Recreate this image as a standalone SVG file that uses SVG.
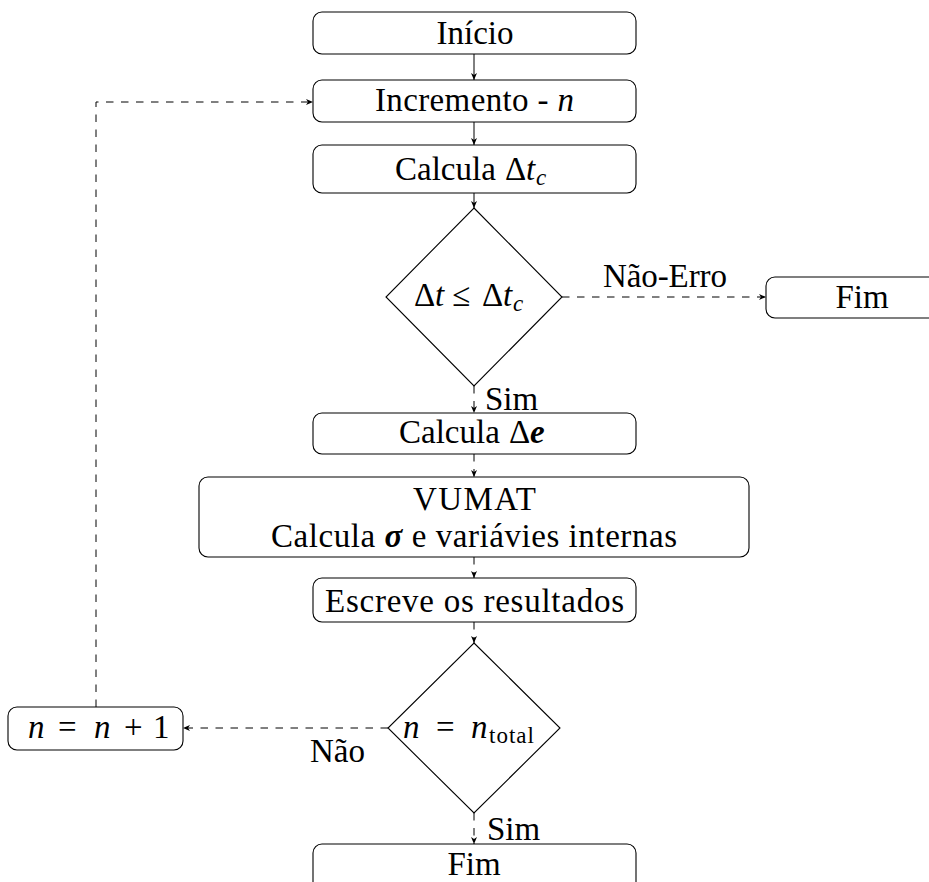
<svg xmlns="http://www.w3.org/2000/svg" width="929" height="882" viewBox="0 0 929 882">
<style>
.box{fill:#fff;stroke:#000;stroke-width:1.1}
.t{font-family:"Liberation Serif","Times New Roman",serif;font-size:33px;fill:#000}
.m{text-anchor:middle}
.i{font-style:italic}
.bi{font-style:italic;font-weight:bold}
.sub{font-size:23px}
.c{fill:none;stroke:#000;stroke-width:1}
.d{stroke-dasharray:7.5 7.5}
</style>
<defs>
<marker id="ah" markerUnits="userSpaceOnUse" markerWidth="10" markerHeight="10" viewBox="-8 -5 10 10" refX="0" refY="0" orient="auto">
<path d="M0,0 L-7,-3 L-5,0 L-7,3 Z" fill="#000"/>
</marker>
</defs>
<g id="connectors">
<line class="c" x1="474" y1="54" x2="474" y2="80" marker-end="url(#ah)"/>
<line class="c" x1="474" y1="122" x2="474" y2="145" marker-end="url(#ah)"/>
<line class="c" x1="474" y1="193" x2="474" y2="208" marker-end="url(#ah)"/>
<line class="c d" x1="474" y1="386" x2="474" y2="413" marker-end="url(#ah)"/>
<line class="c d" x1="474" y1="454" x2="474" y2="477" marker-end="url(#ah)"/>
<line class="c d" x1="474" y1="557" x2="474" y2="578" marker-end="url(#ah)"/>
<line class="c d" x1="474" y1="622" x2="474" y2="643" marker-end="url(#ah)"/>
<line class="c d" x1="474" y1="813" x2="474" y2="844" marker-end="url(#ah)"/>
<line class="c d" x1="562" y1="297" x2="766" y2="297" marker-end="url(#ah)"/>
<line class="c d" x1="388" y1="728" x2="183" y2="728" marker-end="url(#ah)"/>
<polyline class="c d" points="96,707 96,102 313,102" marker-end="url(#ah)"/>
<text class="t m" x="665" y="287" textLength="124" lengthAdjust="spacing">Não-Erro</text>
<text class="t" x="485" y="410">Sim</text>
<text class="t" x="310" y="762">Não</text>
<text class="t" x="487" y="840">Sim</text>
</g>
<g id="inicio">
<rect class="box" x="313" y="12" width="323" height="42" rx="9"/>
<text class="t m" x="475" y="44">Início</text>
</g>
<g id="incremento">
<rect class="box" x="313" y="80" width="323" height="42" rx="9"/>
<text class="t m" x="474.5" y="111" textLength="199" lengthAdjust="spacing">Incremento - <tspan class="i">n</tspan></text>
</g>
<g id="calcula-dtc">
<rect class="box" x="313" y="145" width="323" height="48" rx="9"/>
<text class="t" x="395" y="180">Calcula<tspan x="505">Δ</tspan><tspan class="i" x="526">t</tspan><tspan class="i sub" x="536" dy="5">c</tspan></text>
</g>
<g id="decisao-dt">
<polygon class="box" points="474,208 562,297 474,386 386,297"/>
<text class="t" y="306"><tspan x="414">Δ</tspan><tspan class="i" x="435">t</tspan><tspan x="452">≤</tspan><tspan x="482">Δ</tspan><tspan class="i" x="503">t</tspan><tspan class="i sub" x="513" dy="5">c</tspan></text>
</g>
<g id="fim-erro">
<rect class="box" x="766" y="277" width="190" height="41" rx="9"/>
<text class="t m" x="862" y="308">Fim</text>
</g>
<g id="calcula-de">
<rect class="box" x="313" y="413" width="323" height="41" rx="9"/>
<text class="t" x="399" y="443">Calcula<tspan x="509">Δ</tspan><tspan class="bi" x="530">e</tspan></text>
</g>
<g id="vumat">
<rect class="box" x="199" y="477" width="550" height="80" rx="9"/>
<text class="t m" x="474.5" y="510" textLength="123" lengthAdjust="spacing">VUMAT</text>
<text class="t m" x="474" y="547" textLength="406" lengthAdjust="spacing">Calcula <tspan class="bi">σ</tspan> e variávies internas</text>
</g>
<g id="escreve">
<rect class="box" x="313" y="578" width="323" height="44" rx="9"/>
<text class="t m" x="474.5" y="612" textLength="299" lengthAdjust="spacing">Escreve os resultados</text>
</g>
<g id="decisao-n">
<polygon class="box" points="474,643 560,728 474,813 388,728"/>
<text class="t" y="738"><tspan class="i" x="403">n</tspan><tspan x="436">=</tspan><tspan class="i" x="471">n</tspan><tspan class="sub" x="489" dy="5" letter-spacing="1">total</tspan></text>
</g>
<g id="incrementa-n">
<rect class="box" x="8" y="707" width="175" height="43" rx="9"/>
<text class="t" y="738"><tspan class="i" x="28">n</tspan><tspan x="58">=</tspan><tspan class="i" x="94">n</tspan><tspan x="124">+</tspan><tspan x="153">1</tspan></text>
</g>
<g id="fim">
<rect class="box" x="313" y="844" width="323" height="50" rx="9"/>
<text class="t m" x="474" y="875">Fim</text>
</g>
</svg>
